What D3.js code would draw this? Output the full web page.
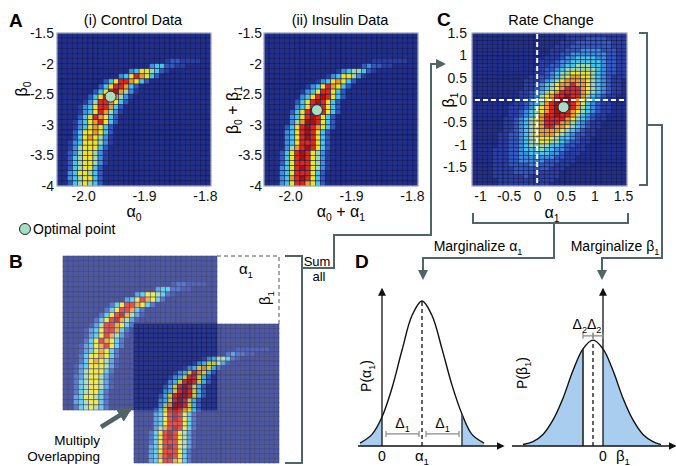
<!DOCTYPE html>
<html>
<head>
<meta charset="utf-8">
<script src="https://cdn.jsdelivr.net/npm/d3@7"></script>
<style>
  body { margin: 0; background: #fff; }
  text { font-family: "Liberation Sans", Arial, sans-serif; }
</style>
</head>
<body>
<div id="fig"></div>
<script>
// heat levels 0..9 per cell (rows top -> bottom)
const controlGrid = [
  "000000000000000000000000000000",
  "000000000000000000000000000000",
  "000000000000000000000000000000",
  "000000000000000000000000000000",
  "000000000000000000000000000000",
  "000000000000000000000122111100",
  "000000000000000000344221100000",
  "000000000000003466542100000000",
  "000000000000346876420000000000",
  "000000000246887642000000000000",
  "000000002468874200000000000000",
  "000000024689753100000000000000",
  "000000246897531000000000000000",
  "000001358876420000000000000000",
  "000013468874200000000000000000",
  "000013468753100000000000000000",
  "000024687642000000000000000000",
  "000134678642000000000000000000",
  "000134676420000000000000000000",
  "000246676420000000000000000000",
  "000246765310000000000000000000",
  "001346665310000000000000000000",
  "001356664200000000000000000000",
  "002356653100000000000000000000",
  "002456653100000000000000000000",
  "002456653100000000000000000000",
  "002456642000000000000000000000",
  "003466542000000000000000000000",
  "003456642000000000000000000000",
  "002456542000000000000000000000"
];
const insulinGrid = [
  "000000000000000000000000000000",
  "000000000000000000000000000000",
  "000000000000000000000000000000",
  "000000000000000000000000000000",
  "000000000000000000000000000000",
  "000000000000000000000111111100",
  "000000000000000000023221100000",
  "000000000000001345542100000000",
  "000000000000134665310000000000",
  "000000000013467642000000000000",
  "000000001346876420000000000000",
  "000000013468864200000000000000",
  "000000034689864200000000000000",
  "000000246898642000000000000000",
  "000000346898642000000000000000",
  "000002468998642000000000000000",
  "000003468986420000000000000000",
  "000003579986420000000000000000",
  "000024689876420000000000000000",
  "000034689864200000000000000000",
  "000034689864200000000000000000",
  "000034688864200000000000000000",
  "000035789864200000000000000000",
  "000246898653100000000000000000",
  "000246898653100000000000000000",
  "000246888653100000000000000000",
  "000346898653100000000000000000",
  "000346888642000000000000000000",
  "000347898642000000000000000000",
  "000346887642000000000000000000"
];
const rateGrid = [
  "000000000000000000111111111111",
  "000000000000000000111122221111",
  "000000000000000001112222222111",
  "000000000000000011122222222111",
  "000000000000000111222333322211",
  "000000000000000112233333332211",
  "000000000000001112334444332211",
  "000000000000011123344444432211",
  "000000000000011223445554432211",
  "000000000000112234555555432211",
  "000000000000112345566665432211",
  "000000000001122345677665432111",
  "000000000011123456777765432110",
  "000000000011234567787765432110",
  "000000000011234567888765432110",
  "000000000112345678888765432110",
  "000000000112356788988754321100",
  "000000001123456789987654321100",
  "000000001123457899987643211000",
  "000000011123567899987543211000",
  "000000011234567899876543211000",
  "000000011234578898875432110000",
  "000000112345678888765432110000",
  "000000112345678887754321100000",
  "000000112345678877654321100000",
  "000000112345677776543211000000",
  "000001122345677765432211000000",
  "000001122345666654432110000000",
  "000001122345566554322110000000",
  "000001122345555443221100000000",
  "000011122344454433211100000000",
  "000011122334444332111000000000",
  "000011122333333322110000000000",
  "000011122333332221110000000000",
  "000011122223322211100000000000",
  "000011112222222111000000000000",
  "000011112222211110000000000000",
  "000011111121111110000000000000",
  "000001111111111100000000000000",
  "000001111111111000000000000000"
];

// axis ranges and ticks
const alpha0Range = [-2.043, -1.79];
const beta0Range = [-1.5, -4];
const alpha0Ticks = [-2.0, -1.9, -1.8];
const beta0Ticks = [-1.5, -2, -2.5, -3, -3.5, -4];
const alpha1Range = [-1.14, 1.57];
const beta1Range = [1.5, -1.924];
const alpha1Ticks = [-1, -0.5, 0, 0.5, 1, 1.5];
const beta1Ticks = [1.5, 1, 0.5, 0, -0.5, -1, -1.5];

// optimal points
const optControl = { a: -1.955, b: -2.54 };
const optInsulin = { a: -1.956, b: -2.76 };
const optRate = { a: 0.46, b: -0.16 };

// marginal curves (panel D)
const alphaX = [-1.1, -0.5, 0, 0.5, 1, 1.5, 2, 2.5, 3, 3.5, 4, 4.5, 5.1];
const alphaP = [0.02, 0.08, 0.2, 0.4, 0.66, 0.9, 1, 0.9, 0.67, 0.42, 0.22, 0.08, 0.02];
const alphaMean = 2, delta1 = 2;
const betaX = [-4, -3.5, -3, -2.5, -2, -1.5, -1, -0.5, 0, 0.5, 1, 1.5, 2, 2.5, 2.9];
const betaP = [0.01, 0.03, 0.08, 0.18, 0.33, 0.52, 0.67, 0.73, 0.67, 0.52, 0.33, 0.18, 0.08, 0.03, 0.01];
const betaMean = -0.5, delta2 = 0.5;

const jet = ["#212e8c", "#2a3ea5", "#3359c2", "#3f8fe0", "#43c5ec",
             "#9dd8a6", "#f1e41e", "#f39a1f", "#e1271a", "#a9140f"];
const lineCol = "#506565";
const fs = 14;

const svg = d3.select("#fig").append("svg").attr("width", 676).attr("height", 466);
const defs = svg.append("defs");
function marker(id, size, col) {
  defs.append("marker").attr("id", id).attr("viewBox", "0 0 10 10")
    .attr("refX", 8).attr("refY", 5).attr("markerUnits", "userSpaceOnUse")
    .attr("markerWidth", size).attr("markerHeight", size).attr("orient", "auto")
    .append("path").attr("d", "M0,0L10,5L0,10z").attr("fill", col);
}
marker("arr", 10, lineCol);
marker("axArr", 8, "#111");
marker("bigArr", 15, lineCol);

function rich(t, parts, size) {
  let down = false;
  parts.forEach(([s, isSub]) => {
    const sp = t.append("tspan").text(s);
    if (isSub) {
      sp.attr("font-size", size * 0.65);
      if (!down) { sp.attr("dy", 4); down = true; }
    } else if (down) { sp.attr("dy", -4); down = false; }
  });
  return t;
}

function heatmap(grid, x0, y0, w, h, op) {
  const nr = grid.length, nc = 30;
  const xb = d3.scaleBand().domain(d3.range(nc)).range([x0, x0 + w]);
  const yb = d3.scaleBand().domain(d3.range(nr)).range([y0, y0 + h]);
  const cells = [];
  grid.forEach((row, r) => row.padEnd(nc, "0").slice(0, nc).split("")
    .forEach((v, c) => cells.push({ r, c, v: +v })));
  const g = svg.append("g").attr("opacity", op);
  g.selectAll("rect").data(cells).join("rect")
    .attr("x", d => xb(d.c)).attr("y", d => yb(d.r))
    .attr("width", xb.bandwidth()).attr("height", yb.bandwidth())
    .attr("fill", d => jet[d.v])
    .attr("stroke", "#0b1247").attr("stroke-width", 0.6).attr("stroke-opacity", 0.85);
  return g;
}

function styleAxis(g) {
  g.select(".domain").remove();
  g.selectAll("text").attr("font-size", fs).attr("fill", "#111")
    .attr("font-family", "'Liberation Sans', Arial, sans-serif");
}

function optPoint(x, y) {
  svg.append("circle").attr("cx", x).attr("cy", y).attr("r", 5.5)
    .attr("fill", "#a7dcc5").attr("stroke", "#1b2b2b").attr("stroke-width", 1);
}

// ---------- Panel A ----------
function panelA(grid, x0, opt, title, ylab, ylabX, ylabY, xlab, pad) {
  const xs = d3.scaleLinear().domain(alpha0Range).range([x0, x0 + 154]);
  const ys = d3.scaleLinear().domain(beta0Range).range([33, 186]);
  heatmap(grid, x0, 33, 154, 153, 1);
  svg.append("rect").attr("x", x0).attr("y", 33).attr("width", 154).attr("height", 153)
    .attr("fill", "none").attr("stroke", "#c4c8da").attr("stroke-width", 1);
  svg.append("g").attr("transform", "translate(0,186)")
    .call(d3.axisBottom(xs).tickValues(alpha0Ticks).tickSize(0).tickPadding(5).tickFormat(d => d.toFixed(1)))
    .call(styleAxis);
  svg.append("g").attr("transform", `translate(${x0},0)`)
    .call(d3.axisLeft(ys).tickValues(beta0Ticks).tickSize(0).tickPadding(pad).tickFormat(d => String(d)))
    .call(styleAxis);
  optPoint(xs(opt.a), ys(opt.b));
  svg.append("text").attr("x", x0 + 76).attr("y", 25).attr("text-anchor", "middle")
    .attr("font-size", 14.5).text(title);
  rich(svg.append("text").attr("x", x0 + 77).attr("y", 217).attr("text-anchor", "middle")
    .attr("font-size", 16), xlab, 16);
  rich(svg.append("text").attr("transform", `translate(${ylabX},${ylabY}) rotate(-90)`)
    .attr("text-anchor", "middle").attr("font-size", 16), ylab, 16);
}
panelA(controlGrid, 57, optControl, "(i) Control Data", [["β", 0], ["0", 1]], 27, 89,
  [["α", 0], ["0", 1]], 3);
panelA(insulinGrid, 264, optInsulin, "(ii) Insulin Data",
  [["β", 0], ["0", 1], [" + β", 0], ["1", 1]], 238, 110,
  [["α", 0], ["0", 1], [" + α", 0], ["1", 1]], 2);

svg.append("text").attr("x", 9).attr("y", 27).attr("font-size", 19).attr("font-weight", "bold").text("A");
optPoint(25, 229);
svg.append("text").attr("x", 33).attr("y", 234).attr("font-size", fs).text("Optimal point");

// ---------- Panel C ----------
const xc = d3.scaleLinear().domain(alpha1Range).range([472, 627]);
const yc = d3.scaleLinear().domain(beta1Range).range([33, 186]);
heatmap(rateGrid, 472, 33, 155, 153, 1);
svg.append("rect").attr("x", 472).attr("y", 33).attr("width", 155).attr("height", 153)
  .attr("fill", "none").attr("stroke", "#c4c8da").attr("stroke-width", 1);
svg.append("line").attr("x1", xc(0)).attr("x2", xc(0)).attr("y1", 34).attr("y2", 186)
  .attr("stroke", "#fff").attr("stroke-width", 2).attr("stroke-dasharray", "5,3");
svg.append("line").attr("x1", 475).attr("x2", 627).attr("y1", yc(0)).attr("y2", yc(0))
  .attr("stroke", "#fff").attr("stroke-width", 2).attr("stroke-dasharray", "5,3");
optPoint(xc(optRate.a), yc(optRate.b));
svg.append("g").attr("transform", "translate(0,186)")
  .call(d3.axisBottom(xc).tickValues(alpha1Ticks).tickSize(0).tickPadding(5).tickFormat(d => String(d)))
  .call(styleAxis);
svg.append("g").attr("transform", "translate(472,0)")
  .call(d3.axisLeft(yc).tickValues(beta1Ticks).tickSize(0).tickPadding(5).tickFormat(d => String(d)))
  .call(styleAxis);
svg.append("text").attr("x", 551).attr("y", 25).attr("text-anchor", "middle").attr("font-size", 14.5).text("Rate Change");
svg.append("text").attr("x", 437).attr("y", 26).attr("font-size", 19).attr("font-weight", "bold").text("C");
rich(svg.append("text").attr("x", 552).attr("y", 218).attr("text-anchor", "middle").attr("font-size", 16),
  [["α", 0], ["1", 1]], 16);
rich(svg.append("text").attr("transform", "translate(454,100) rotate(-90)").attr("text-anchor", "middle")
  .attr("font-size", 16), [["β", 0], ["1", 1]], 16);

// ---------- Panel B ----------
heatmap(controlGrid, 63, 256, 154, 154, 0.8);
heatmap(insulinGrid, 134, 324, 145, 139, 0.8);
svg.append("path").attr("d", "M217,256H279V324").attr("fill", "none")
  .attr("stroke", "#555").attr("stroke-width", 1).attr("stroke-dasharray", "4,3");
rich(svg.append("text").attr("x", 246).attr("y", 274).attr("text-anchor", "middle").attr("font-size", 15),
  [["α", 0], ["1", 1]], 15);
rich(svg.append("text").attr("transform", "translate(270,298) rotate(-90)").attr("text-anchor", "middle")
  .attr("font-size", 15), [["β", 0], ["1", 1]], 15);
svg.append("text").attr("x", 9).attr("y", 268).attr("font-size", 19).attr("font-weight", "bold").text("B");
svg.append("line").attr("x1", 101).attr("y1", 427).attr("x2", 130).attr("y2", 409)
  .attr("stroke", lineCol).attr("stroke-width", 4.5).attr("marker-end", "url(#bigArr)");
svg.append("text").attr("x", 100).attr("y", 445).attr("text-anchor", "end").attr("font-size", 13.5).text("Multiply");
svg.append("text").attr("x", 100).attr("y", 461).attr("text-anchor", "end").attr("font-size", 13.5).text("Overlapping");
svg.append("text").attr("x", 317).attr("y", 266).attr("text-anchor", "middle").attr("font-size", 13).text("Sum");
svg.append("text").attr("x", 319).attr("y", 281).attr("text-anchor", "middle").attr("font-size", 13).text("all");

// ---------- connectors ----------
function conn(d, end) {
  const p = svg.append("path").attr("d", d).attr("fill", "none")
    .attr("stroke", lineCol).attr("stroke-width", 2);
  if (end) p.attr("marker-end", "url(#arr)");
}
conn("M285,256H302V463H285");
conn("M302,268H334V235H431V64H444", true);
conn("M639,33H647V185H639");
conn("M647,125H662V258H602V278", true);
conn("M473,213V223H628V213");
conn("M554,223V258H423V278", true);
rich(svg.append("text").attr("x", 478).attr("y", 251).attr("text-anchor", "middle").attr("font-size", fs),
  [["Marginalize α", 0], ["1", 1]], fs);
rich(svg.append("text").attr("x", 615).attr("y", 251).attr("text-anchor", "middle").attr("font-size", fs),
  [["Marginalize β", 0], ["1", 1]], fs);
svg.append("text").attr("x", 355).attr("y", 268).attr("font-size", 19).attr("font-weight", "bold").text("D");

// ---------- Panel D ----------
const xa = d3.scaleLinear().domain([-1.2, 6.05]).range([358, 503]);
const xbt = d3.scaleLinear().domain([-4.55, 3.6]).range([512, 675]);
const yd = d3.scaleLinear().domain([0, 1]).range([446, 301]);
const fill = "#a9cdee";

function clip(id, xs, spans) {
  defs.append("clipPath").attr("id", id).selectAll("rect").data(spans).join("rect")
    .attr("x", d => xs(d[0])).attr("width", d => xs(d[1]) - xs(d[0]))
    .attr("y", 0).attr("height", 466);
}
clip("tailA", xa, [[-1.2, 0], [alphaMean + delta1, 6.05]]);
clip("tailB", xbt, [[-4.55, betaMean - delta2], [betaMean + delta2, 3.6]]);

function density(xs, X, P, clipId) {
  const pts = X.map((x, i) => ({ x, p: P[i] }));
  const area = d3.area().x(d => xs(d.x)).y0(yd(0)).y1(d => yd(d.p)).curve(d3.curveCatmullRom);
  const line = d3.line().x(d => xs(d.x)).y(d => yd(d.p)).curve(d3.curveCatmullRom);
  svg.append("path").datum(pts).attr("d", area).attr("fill", fill).attr("clip-path", `url(#${clipId})`);
  svg.append("path").datum(pts).attr("d", line).attr("fill", "none").attr("stroke", "#111").attr("stroke-width", 1.4);
}
density(xa, alphaX, alphaP, "tailA");
density(xbt, betaX, betaP, "tailB");

function vline(x, p, dash, col, w) {
  const l = svg.append("line").attr("x1", x).attr("x2", x).attr("y1", yd(0)).attr("y2", yd(p))
    .attr("stroke", col).attr("stroke-width", w);
  if (dash) l.attr("stroke-dasharray", "4,3");
}
// left marginal
vline(xa(alphaMean), alphaP[alphaX.indexOf(alphaMean)], true, "#111", 1.3);
vline(xa(alphaMean + delta1), alphaP[alphaX.indexOf(alphaMean + delta1)], false, "#3a4a55", 1.6);
// right marginal
vline(xbt(betaMean), betaP[betaX.indexOf(betaMean)], true, "#111", 1.3);
vline(xbt(betaMean - delta2), betaP[betaX.indexOf(betaMean - delta2)], false, "#222", 1.6);

function axesD(xs, x0, x1, yTop) {
  svg.append("line").attr("x1", xs(0)).attr("x2", xs(0)).attr("y1", yd(0)).attr("y2", yd(yTop))
    .attr("stroke", "#111").attr("stroke-width", 1.3).attr("marker-end", "url(#axArr)");
  svg.append("line").attr("x1", xs(x0)).attr("x2", xs(x1)).attr("y1", yd(0)).attr("y2", yd(0))
    .attr("stroke", "#111").attr("stroke-width", 1.3).attr("marker-end", "url(#axArr)");
  svg.append("text").attr("x", xs(0)).attr("y", 461).attr("text-anchor", "middle").attr("font-size", fs).text("0");
}
axesD(xa, -1.2, 6.05, 1.08);
axesD(xbt, -4.55, 3.6, 1.08);
rich(svg.append("text").attr("x", xa(alphaMean)).attr("y", 461).attr("text-anchor", "middle").attr("font-size", 15),
  [["α", 0], ["1", 1]], 15);
rich(svg.append("text").attr("x", xbt(1)).attr("y", 461).attr("text-anchor", "middle").attr("font-size", 15),
  [["β", 0], ["1", 1]], 15);
rich(svg.append("text").attr("transform", "translate(371,376) rotate(-90)").attr("text-anchor", "middle")
  .attr("font-size", fs), [["P(α", 0], ["1", 1], [")", 0]], fs);
rich(svg.append("text").attr("transform", "translate(527,373) rotate(-90)").attr("text-anchor", "middle")
  .attr("font-size", fs), [["P(β", 0], ["1", 1], [")", 0]], fs);

function span(xs, a, b, p) {
  const y = yd(p), x1 = xs(a), x2 = xs(b);
  svg.append("path").attr("d", `M${x1},${y - 3}V${y + 3}M${x1},${y}H${x2}M${x2},${y - 3}V${y + 3}`)
    .attr("fill", "none").attr("stroke", "#8a8a8a").attr("stroke-width", 1.2);
}
span(xa, 0.2, alphaMean - 0.15, 0.083);
span(xa, alphaMean + 0.2, alphaMean + delta1 - 0.15, 0.083);
[0.2 + (alphaMean - 0.35) / 2, alphaMean + 0.2 + (delta1 - 0.35) / 2].forEach(c =>
  rich(svg.append("text").attr("x", xa(c)).attr("y", 428).attr("text-anchor", "middle").attr("font-size", fs),
    [["Δ", 0], ["1", 1]], fs));
span(xbt, betaMean - delta2, betaMean, 0.76);
span(xbt, betaMean, betaMean + delta2, 0.76);
rich(svg.append("text").attr("x", xbt(betaMean) - 6).attr("y", 329).attr("text-anchor", "end").attr("font-size", fs),
  [["Δ", 0], ["2", 1]], fs);
rich(svg.append("text").attr("x", xbt(betaMean) - 6).attr("y", 329).attr("text-anchor", "start").attr("font-size", fs),
  [["Δ", 0], ["2", 1]], fs);
</script>
</body>
</html>
